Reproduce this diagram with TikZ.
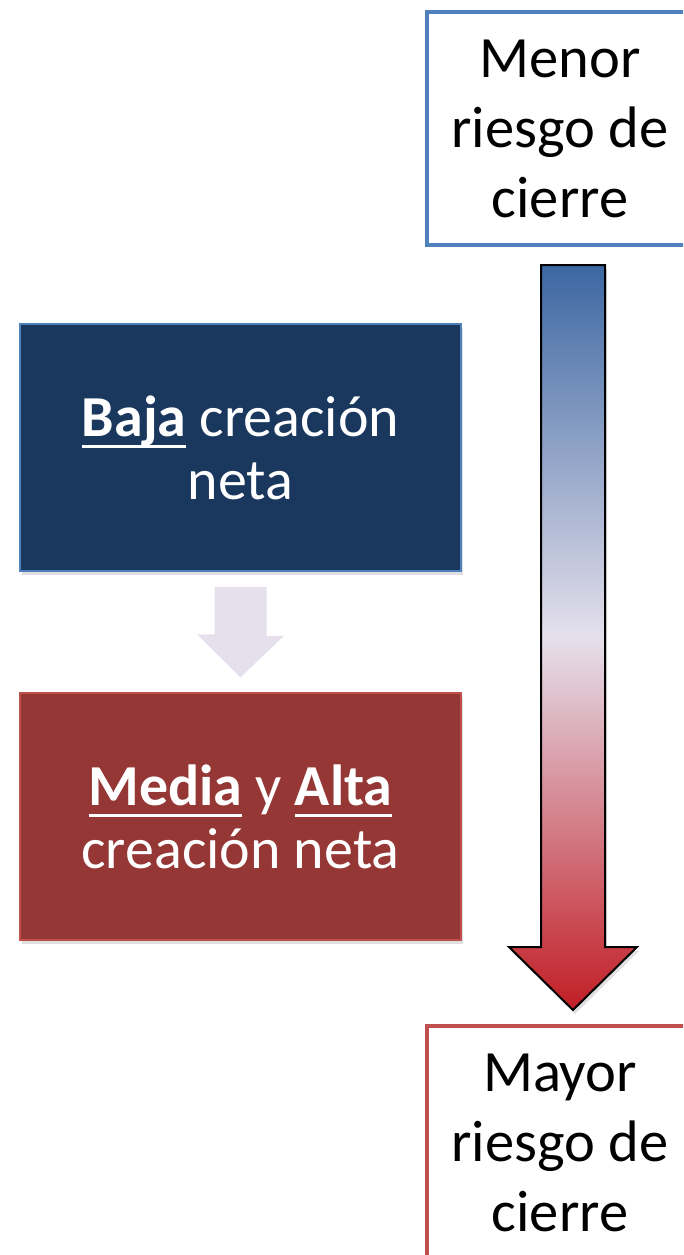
\documentclass[tikz,border=0pt]{standalone}
\usepackage{fontspec}
\setmainfont{Carlito}
\usetikzlibrary{shadows,calc}

\definecolor{azulborde}{HTML}{4F81BD}
\definecolor{azulfondo}{HTML}{1A375E}
\definecolor{rojoborde}{HTML}{C0504D}
\definecolor{rojofondo}{HTML}{953735}
\definecolor{lavanda}{HTML}{E5E0EC}
\definecolor{flechaazul}{HTML}{3C67A2}
\definecolor{flecharoja}{HTML}{C21D25}

\newcommand{\rayado}[1]{\setbox0\hbox{#1}\rlap{\rule[-0.2em]{\wd0}{0.055em}}\box0\relax}

\begin{document}
\begin{tikzpicture}[
		x=1pt, y=-1pt,
		every node/.style={rectangle, align=center},
		caja/.style={minimum width=441pt, minimum height=247pt, line width=1.5pt, text=white, font=\fontsize{58}{63}\selectfont},
		riesgo/.style={fill=white, minimum width=266pt, minimum height=233pt, line width=4pt, font=\fontsize{58.5}{70}\selectfont},
		sombra/.style={drop shadow={shadow xshift=2pt, shadow yshift=-4pt, opacity=0.25}}
	]
  \useasboundingbox (0,0) rectangle (683,1255);
  \clip (0,0) rectangle (683,1255);
  \node (menor) [riesgo, draw=azulborde] at (560,128.5) {Menor\\riesgo de\\cierre};
  \node (mayor) [riesgo, draw=rojoborde] at (560,1142.5) {Mayor\\riesgo de\\cierre};
  \node (baja) [caja, fill=azulfondo, draw=azulborde, sombra] at (240.5,447.5) {\rayado{\textbf{Baja}} creación\\neta};
  \node (media) [caja, fill=rojofondo, draw=rojoborde, sombra] at (240.5,816.5) {\rayado{\textbf{Media}} y \rayado{\textbf{Alta}}\\creación neta};
  \coordinate (cola) at (573,265);
  \coordinate (punta) at (573,1010);
  \fill[lavanda] ($(baja.south)+(-26,15)$) -- ++(52,0) -- ++(0,49) -- ++(17.5,0)
    -- ($(media.north)+(0,-15)$) -- ++(-43.5,-43) -- ++(17.5,0) -- cycle;
  \shade[top color=flechaazul, bottom color=flecharoja, middle color=lavanda, draw=black, line width=2pt, sombra]
    (cola) ++(-32,0) -- ++(64,0) -- ++(0,682) -- ++(32,0) -- (punta) -- ++(-64,-63) -- ++(32,0) -- cycle;
\end{tikzpicture}
\end{document}
